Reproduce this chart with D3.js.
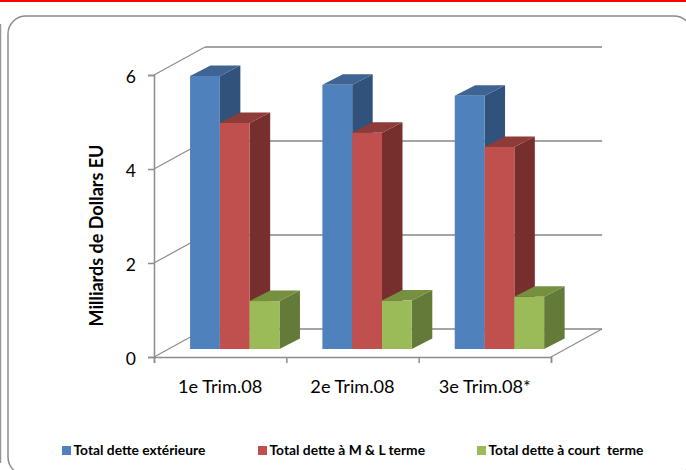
<!DOCTYPE html>
<html>
<head>
<meta charset="utf-8">
<script src="https://d3js.org/d3.v7.min.js"></script>
<style>
  html, body { margin: 0; padding: 0; background: #fff; }
  text { font-family: Lato, "Open Sans", sans-serif; fill: #000; }
</style>
</head>
<body>
<div id="chart"></div>
<script>
// Values
const categories = ['1e Trim.08', '2e Trim.08', '3e Trim.08*'];
const seriesNames = ['Total dette extérieure', 'Total dette à M & L terme', 'Total dette à court  terme'];
const totalDette = [5.81, 5.62, 5.39];
const detteMoyenLong = [4.81, 4.6, 4.3];
const detteCourt = [1.02, 1.03, 1.11];
const yTicks = [0, 2, 4, 6];

const seriesValues = [totalDette, detteMoyenLong, detteCourt];
const faceColors = ['#4f81bd', '#c0504d', '#9bbb59'];
const topColors = ['#3e6494', '#8e3b39', '#75903f'];
const sideColors = ['#31527a', '#772f2e', '#647a38'];

const svg = d3.select('#chart').append('svg')
  .attr('width', 686)
  .attr('height', 470)
  .style('display', 'block');

// Red rule and frames
svg.append('rect').attr('x', 0).attr('y', 0).attr('width', 686).attr('height', 2).attr('fill', '#f00');
svg.append('line').attr('x1', 0.5).attr('x2', 0.5).attr('y1', 24).attr('y2', 463)
  .attr('stroke', '#969696').attr('stroke-width', 1.5);
svg.append('rect').attr('x', 8).attr('y', 16).attr('width', 684).attr('height', 459).attr('rx', 18)
  .attr('fill', 'none').attr('stroke', '#8c8c8c').attr('stroke-width', 1.5);

// Scales
const x = d3.scaleBand().domain(categories).range([154, 551]);
const y = d3.scaleLinear().domain([0, 6]).range([357, 75]);

// Depth of the floor and of the bars
const wallDx = 51, wallDy = -28;
const barShiftDx = 14.6, barShiftDy = -8;
const barDx = 20.5, barDy = -10.5;
const barWidth = 29.8;

// Gridlines on the back wall and on the left wall
const grid = svg.append('g');
yTicks.forEach(t => {
  grid.append('line')
    .attr('x1', 154).attr('y1', y(t))
    .attr('x2', 154 + wallDx).attr('y2', y(t) + wallDy)
    .attr('stroke', '#8c8c8c').attr('stroke-width', 1.2);
  grid.append('line')
    .attr('x1', 154 + wallDx).attr('y1', y(t) + wallDy)
    .attr('x2', 551 + wallDx).attr('y2', y(t) + wallDy)
    .attr('stroke', '#868686').attr('stroke-width', 1.6);
});
grid.append('line')
  .attr('x1', 551).attr('y1', y(0))
  .attr('x2', 551 + wallDx).attr('y2', y(0) + wallDy)
  .attr('stroke', '#8c8c8c').attr('stroke-width', 1.2);

// Bars, back to front, left to right
categories.forEach((c, i) => {
  const center = x(c) + x.bandwidth() / 2 + barShiftDx;
  const left = center - barWidth * 1.5;
  seriesValues.forEach((vals, s) => {
    const x0 = left + s * barWidth;
    const x1 = x0 + barWidth;
    const base = y(0) + barShiftDy;
    const top = base - (y(0) - y(vals[i]));
    const g = svg.append('g');
    g.append('path')
      .attr('d', d3.line()([[x1, top], [x1 + barDx, top + barDy], [x1 + barDx, base + barDy], [x1, base]]))
      .attr('fill', sideColors[s]);
    g.append('path')
      .attr('d', d3.line()([[x0, top], [x0 + barDx, top + barDy], [x1 + barDx, top + barDy], [x1, top]]))
      .attr('fill', topColors[s]);
    g.append('rect')
      .attr('x', x0).attr('y', top)
      .attr('width', barWidth).attr('height', base - top)
      .attr('fill', faceColors[s]);
  });
});

// Axes
const yAxis = d3.axisLeft(y).tickValues(yTicks).tickSize(6).tickPadding(12).tickFormat(d3.format('d'));
const gy = svg.append('g').attr('transform', 'translate(154,0)').call(yAxis);
gy.selectAll('text').attr('font-size', 17.5).attr('dy', '0.42em');

const xAxis = d3.axisBottom(d3.scaleLinear().domain([0, 3]).range([154, 551]))
  .tickValues([0, 1, 2, 3]).tickSize(6).tickFormat('');
const gx = svg.append('g').attr('transform', 'translate(0,357)').call(xAxis);
[gy, gx].forEach(a => {
  a.selectAll('path, line').attr('stroke', '#8c8c8c').attr('stroke-width', 1.5);
});

svg.append('g').selectAll('text').data(categories).enter().append('text')
  .attr('x', d => x(d) + x.bandwidth() / 2)
  .attr('y', 393)
  .attr('text-anchor', 'middle')
  .attr('font-size', 18.2)
  .text(d => d);

// Axis title
svg.append('text')
  .attr('transform', 'translate(103,235.5) rotate(-90)')
  .attr('text-anchor', 'middle')
  .attr('font-size', 18)
  .attr('font-weight', 'bold')
  .text('Milliards de Dollars EU');

// Legend
const legendX = [62, 258, 477];
const legend = svg.append('g').selectAll('g').data(seriesNames).enter().append('g')
  .attr('transform', (d, i) => `translate(${legendX[i]},446)`);
legend.append('rect').attr('width', 9).attr('height', 9)
  .attr('fill', (d, i) => faceColors[i]);
legend.append('text')
  .attr('x', 11.5).attr('y', 8.5)
  .attr('font-size', 13.8)
  .attr('font-weight', 'bold')
  .style('white-space', 'pre')
  .text(d => d);
</script>
</body>
</html>
